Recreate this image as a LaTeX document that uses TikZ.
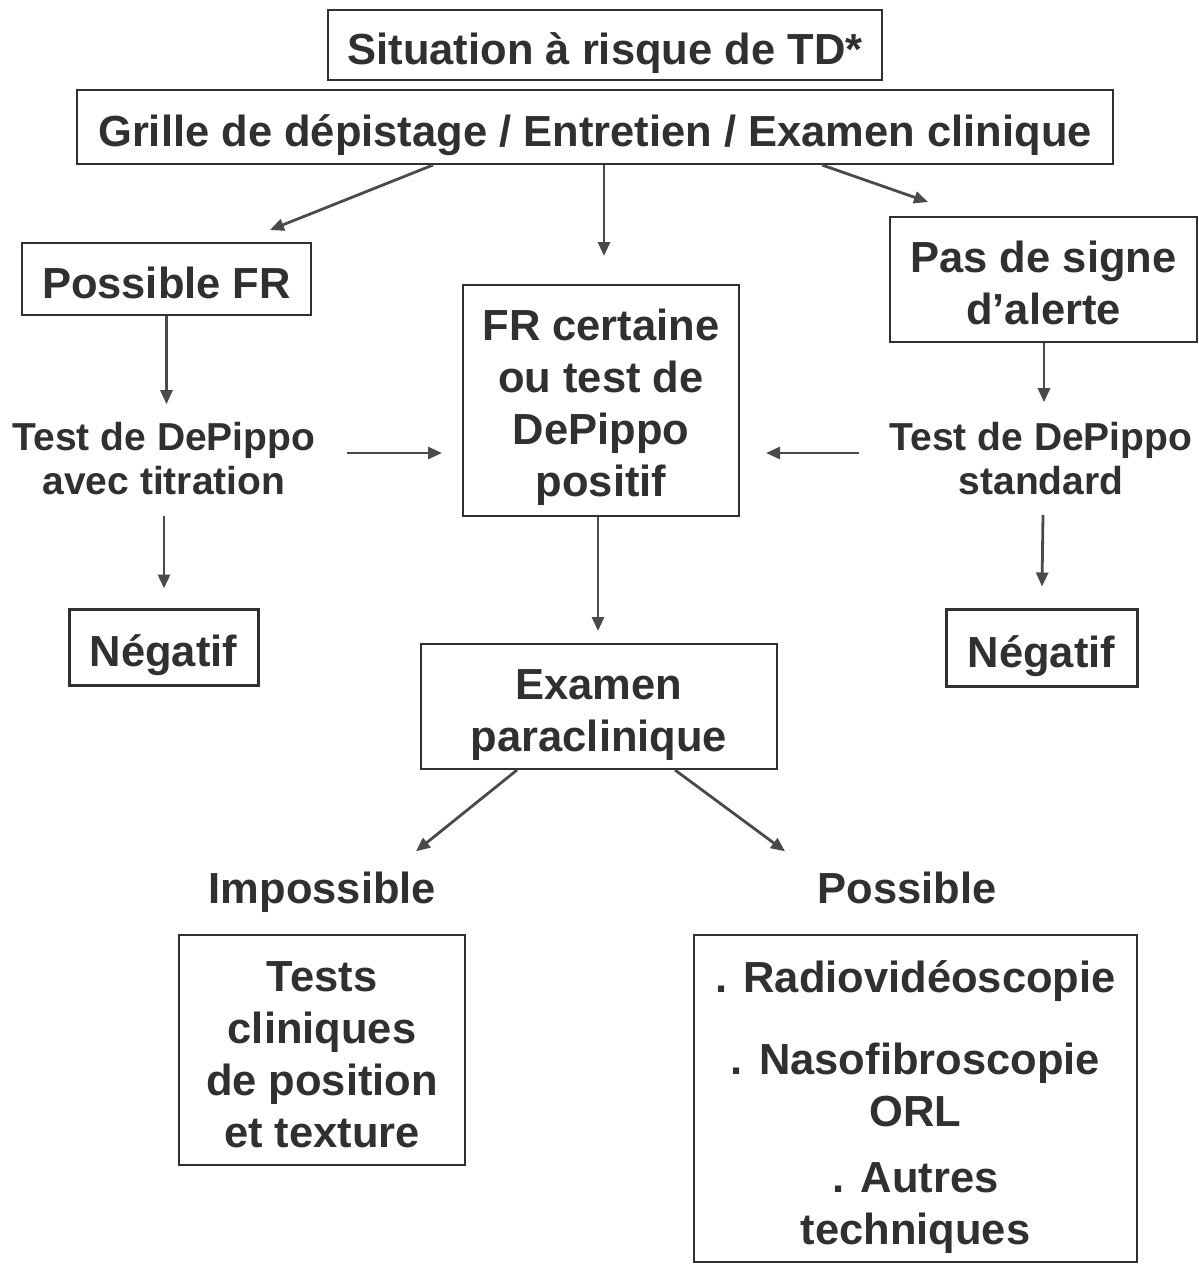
\documentclass[tikz,border=0pt]{standalone}
\usepackage{fontspec}
\setmainfont{Liberation Sans}
\usetikzlibrary{calc,arrows.meta}
\definecolor{ink}{HTML}{303030}
\definecolor{arrowc}{HTML}{4A4A4A}
\newcommand{\mystrutb}{\rule[-4.6pt]{0pt}{24.8pt}}
\newcommand{\mtopstrut}[1][24pt]{\rule{0pt}{#1}}
\newcommand{\sidetopstrut}{\rule{0pt}{17.2pt}}
\begin{document}
\begin{tikzpicture}[x=0.5pt,y=-0.5pt,
  box/.style={draw=ink, line width=1pt, inner sep=0pt, align=center, text=ink,
    font=\bfseries\fontsize{21.75}{26}\selectfont,
    execute at begin node={\rule[-4.6pt]{0pt}{28.8pt}}, execute at end node=\mystrutb},
  mbox/.style={draw=ink, line width=1pt, inner sep=0pt, align=center, text=ink,
    font=\bfseries\fontsize{21.75}{26}\selectfont},
  plain/.style={inner sep=0pt, align=center, text=ink,
    font=\bfseries\fontsize{21.75}{26}\selectfont,
    execute at begin node=\mystrutb, execute at end node=\mystrutb},
  side/.style={inner sep=0pt, align=center, text=ink,
    font=\bfseries\fontsize{19.5}{22}\selectfont},
  arr/.style={draw=arrowc, line width=1.4pt, -{Triangle[length=7pt,width=6pt]}}]
\useasboundingbox[fill=white] (0,0) rectangle (1199,1264);

\node[box, minimum width=277pt, minimum height=35pt] (b1) at (605,45) {Situation à risque de TD*};
\node[box, minimum width=518pt, minimum height=37pt] (b2) at (595,127) {Grille de dépistage / Entretien / Examen clinique};
\node[box, minimum width=144.5pt, minimum height=36pt] (pfr) at (166.5,279) {Possible FR};
\node[mbox, minimum width=153.5pt, minimum height=62.5pt] (pas) at (1043.5,279.5) {\mtopstrut[19pt]Pas de signe\\d’alerte};
\node[mbox, minimum width=138pt, minimum height=115.5pt] (frc) at (601,400.5) {\mtopstrut[23pt]FR certaine\\ou test de\\DePippo\\positif};
\node[side] (tdl) at (164,455) {\sidetopstrut Test de DePippo\\avec titration};
\node[side] (tdr) at (1041,455) {\sidetopstrut Test de DePippo\\standard};
\node[box, line width=1.5pt, minimum width=94.5pt, minimum height=38pt] (neg1) at (163.5,647) {Négatif};
\node[box, line width=1.5pt, minimum width=95.5pt, minimum height=38.5pt] (neg2) at (1041.5,647.5) {Négatif};
\node[mbox, minimum width=178pt, minimum height=62.5pt] (exa) at (599,706.5) {\mtopstrut Examen\\paraclinique};
\node[plain] (imp) at (322.5,888) {Impossible};
\node[plain] (pos) at (907,888) {Possible};
\node[mbox, minimum width=143pt, minimum height=115pt] (tests) at (322,1050) {\mtopstrut[20pt]Tests\\cliniques\\de position\\et texture};
\node[mbox, minimum width=221.5pt, minimum height=163.5pt] (poss) at (915.5,1098.5) {\mtopstrut . Radiovidéoscopie\\[15pt]. Nasofibroscopie\\ORL\\[7pt]. Autres\\techniques};

\draw[arr] ($(b2.south)+(-162,0)$) -- ($(pfr.north)+(103.5,-12)$);
\draw[arr] ($(b2.south)+(9,0)$) -- ($(frc.north)+(3,-28)$);
\draw[arr] ($(b2.south)+(227,0)$) -- ($(pas.north)+(-115.5,-14)$);
\draw[arr] (pfr.south) -- ($(tdl.north -| pfr.south)+(0,-11)$);
\draw[arr] ($(tdl.east)+(31.5,-2)$) -- ($(frc.west |- tdl.east)+(-20,-2)$);
\draw[arr] ($(tdr.west)+(-30.5,-2)$) -- ($(frc.east |- tdr.west)+(26,-2)$);
\draw[arr] ($(pas.south)+(0.5,0)$) -- ($(tdr.north -| pas.south)+(0.5,-13)$);
\draw[arr] ($(tdl.south)+(0,21)$) -- ($(neg1.north)+(0.5,-19)$);
\draw[arr] ($(tdr.south)+(2,20)$) -- ($(neg2.north)+(0.5,-21)$);
\draw[arr] ($(frc.south)+(-3,0)$) -- ($(exa.north)+(-1,-12)$);
\draw[arr] ($(exa.south)+(-82,0)$) -- ($(imp.north)+(93.5,-11.5)$);
\draw[arr] ($(exa.south)+(76,0)$) -- ($(pos.north)+(-122,-11.5)$);
\end{tikzpicture}
\end{document}
